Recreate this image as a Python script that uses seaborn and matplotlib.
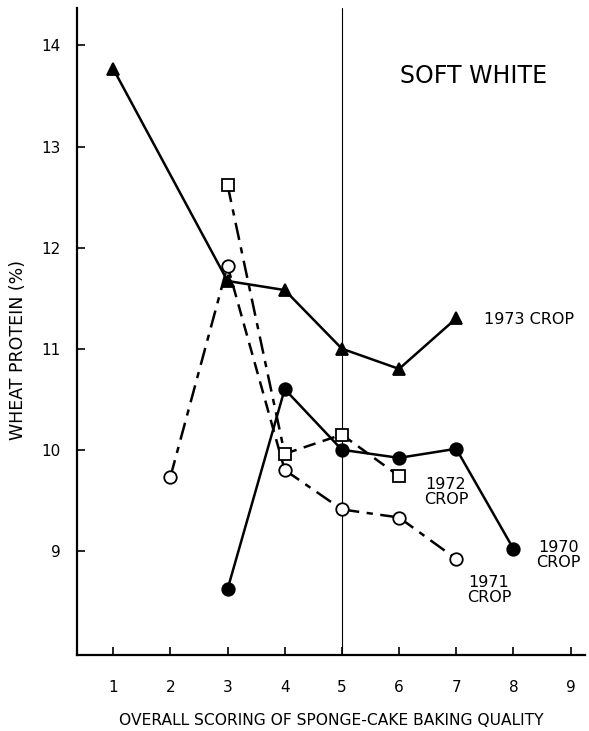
import matplotlib
matplotlib.use("Agg")
import matplotlib.pyplot as plt
import seaborn as sns
import pandas as pd

# ---- data ----
x_1973 = [1, 3, 4, 5, 6, 7]
y_1973 = [13.77, 11.67, 11.58, 11.00, 10.80, 11.30]

x_1972 = [3, 4, 5, 6]
y_1972 = [12.62, 9.96, 10.15, 9.74]

x_1971 = [2, 3, 4, 5, 6, 7]
y_1971 = [9.73, 11.82, 9.80, 9.41, 9.33, 8.92]

x_1970 = [3, 4, 5, 6, 7, 8]
y_1970 = [8.62, 10.60, 10.00, 9.92, 10.01, 9.02]

x_ticks = [1, 2, 3, 4, 5, 6, 7, 8, 9]
y_ticks = [9, 10, 11, 12, 13, 14]

sns.set_theme(style="ticks")
plt.rcParams['font.family'] = ['DejaVu Sans']
plt.rcParams['text.color'] = 'black'
plt.rcParams['axes.labelcolor'] = 'black'

fig = plt.figure(figsize=(5.89, 7.31), dpi=100)
ax = fig.add_axes([0.131, 0.104, 0.862, 0.885])

DASHDOT = (0, (7, 3, 2.5, 3))
DASHED = (0, (5, 3))

def draw(xs, ys, seg_styles, marker, mfc):
    for i in range(len(xs) - 1):
        df = pd.DataFrame({"x": xs[i:i + 2], "y": ys[i:i + 2]})
        sns.lineplot(data=df, x="x", y="y", ax=ax, color="black",
                     linewidth=1.8, linestyle=seg_styles[i], zorder=2)
    ax.plot(xs, ys, linestyle="none", marker=marker, markersize=9,
            markerfacecolor=mfc, markeredgecolor="black",
            markeredgewidth=1.3, zorder=4)

draw(x_1973, y_1973, ["-"] * 5, "^", "black")
draw(x_1970, y_1970, ["-"] * 5, "o", "black")
draw(x_1972, y_1972, [DASHDOT, DASHED, DASHED], "s", "white")
draw(x_1971, y_1971, [DASHDOT, DASHED, DASHDOT, DASHDOT, DASHDOT], "o", "white")

ax.axvline(5, color="black", linewidth=0.8, zorder=1)

ax.set_xlim(0.37, 9.25)
ax.set_ylim(7.97, 14.37)
ax.set_xticks(x_ticks)
ax.set_yticks(y_ticks)
ax.tick_params(direction="in", length=6, width=1.2, labelsize=11, colors="black")
ax.tick_params(axis="x", pad=18)
ax.tick_params(axis="y", pad=12)
for s in ["top", "right"]:
    ax.spines[s].set_visible(False)
for s in ["left", "bottom"]:
    ax.spines[s].set_linewidth(1.6)
    ax.spines[s].set_color("black")

ax.set_xlabel("OVERALL SCORING OF SPONGE-CAKE BAKING QUALITY", fontsize=11.2, labelpad=13)
ax.set_ylabel("WHEAT PROTEIN (%)", fontsize=12.5)
ax.yaxis.set_label_coords(-0.098, 0.471)

ax.text(7.31, 13.7, "SOFT WHITE", fontsize=17, ha="center", va="center")
ax.text(7.48, 11.29, "1973 CROP", fontsize=11.5, ha="left", va="center")
ax.text(6.82, 9.58, "1972\nCROP", fontsize=11.5, ha="center", va="center", linespacing=1.0)
ax.text(8.79, 8.96, "1970\nCROP", fontsize=11.5, ha="center", va="center", linespacing=1.0)
ax.text(7.57, 8.61, "1971\nCROP", fontsize=11.5, ha="center", va="center", linespacing=1.0)

fig.savefig("out.png", dpi=100, facecolor="white")
